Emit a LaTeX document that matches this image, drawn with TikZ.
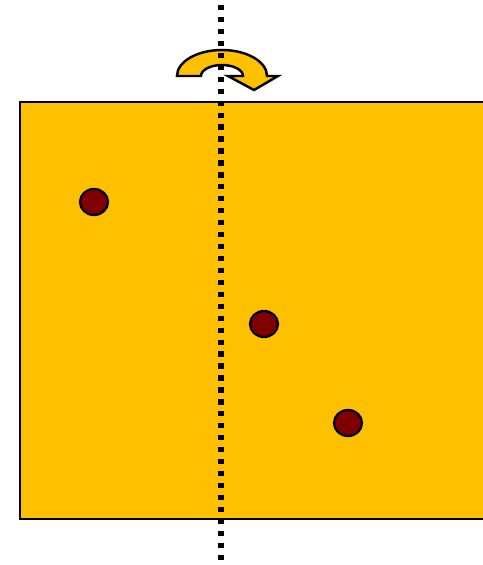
\documentclass[tikz,border=0pt]{standalone}
\usepackage{xcolor}
\usepackage{tikz}
\definecolor{gold}{RGB}{255,192,0}
\definecolor{maroon}{RGB}{128,0,0}

\begin{document}
\begin{tikzpicture}[x=0.02cm,y=0.02cm]
  \useasboundingbox (0,0) rectangle (483,565);
  \clip (0,0) rectangle (483,565);
  \def\ax{221}
  % panel
  \fill[gold] (20,46) rectangle (495,463);
  \draw[line width=1.5pt] (20,46) rectangle (495,463);
  % particles
  \foreach \px/\py in {94/363,264/241,348/142}
    { \filldraw[fill=maroon,line width=1.3pt] (\px,\py) ellipse [x radius=14,y radius=13]; }
  % rotation arrow
  \filldraw[fill=gold,line width=1.4pt,line join=miter]
    (177,489) arc[start angle=180,end angle=0,x radius=45,y radius=26]
    -- (278,489) -- (254,475) -- (228,489) -- (243,489)
    arc[start angle=0,end angle=180,x radius=21,y radius=11] -- cycle;
  % axis
  \draw[line width=3.2pt,dash pattern=on 3pt off 3.8pt] (\ax,560) -- (\ax,0);
\end{tikzpicture}
\end{document}
